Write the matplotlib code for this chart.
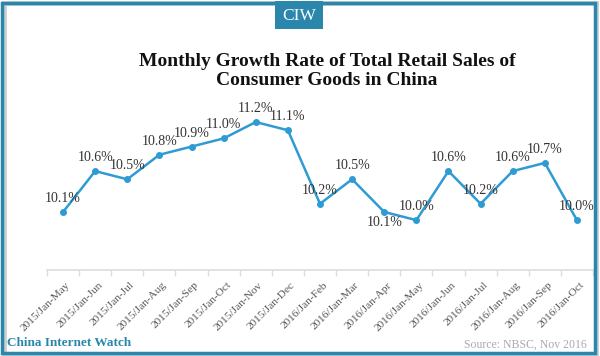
import matplotlib.pyplot as plt
from matplotlib.patches import Rectangle

months = ["2015/Jan-May", "2015/Jan-Jun", "2015/Jan-Jul", "2015/Jan-Aug", "2015/Jan-Sep",
          "2015/Jan-Oct", "2015/Jan-Nov", "2015/Jan-Dec", "2016/Jan-Feb", "2016/Jan-Mar",
          "2016/Jan-Apr", "2016/Jan-May", "2016/Jan-Jun", "2016/Jan-Jul", "2016/Jan-Aug",
          "2016/Jan-Sep", "2016/Jan-Oct"]
growth = [10.1, 10.6, 10.5, 10.8, 10.9, 11.0, 11.2, 11.1, 10.2, 10.5,
          10.1, 10.0, 10.6, 10.2, 10.6, 10.7, 10.0]

line_color = "#2f9bd3"
teal = "#2a87ab"
serif = "Liberation Serif"

fig = plt.figure(figsize=(6, 3.56), dpi=100)
fig.patch.set_facecolor("white")

# frame round the picture
fig.patches.append(Rectangle((0.006, 0.006), 0.988, 0.985, transform=fig.transFigure,
                             fill=False, edgecolor="#c9cfd3", linewidth=3.5))
fig.patches.append(Rectangle((0.004, 0.009), 0.988, 0.983, transform=fig.transFigure,
                             fill=False, edgecolor=teal, linewidth=2.5))
# CIW badge
fig.patches.append(Rectangle((275 / 600, 1 - 29 / 356), 48 / 600, 28 / 356,
                             transform=fig.transFigure, facecolor=teal, edgecolor="none"))
fig.text(299 / 600, 1 - 16 / 356, "CIW", color="white", fontsize=12.5, family=serif,
         ha="center", va="center")

fig.text(327 / 600, 1 - 71 / 356, "Monthly Growth Rate of Total Retail Sales of\nConsumer Goods in China",
         ha="center", va="center", fontsize=14, fontweight="bold", family=serif,
         color="#111111", linespacing=1.2)

ax = fig.add_axes([47 / 600, 1 - 270 / 356, 546 / 600, 170 / 356])
x = list(range(len(months)))
ax.plot(x, growth, color=line_color, linewidth=1.8, marker="o", markersize=4)

for i, v in enumerate(growth):
    if i == 10:
        ax.annotate(f"{v:.1f}%", (i, v), xytext=(0, -3), textcoords="offset points",
                    ha="center", va="top", fontsize=10, family=serif, color="#333333")
    else:
        ax.annotate(f"{v:.1f}%", (i, v), xytext=(0, 5), textcoords="offset points",
                    ha="center", va="bottom", fontsize=10, family=serif, color="#333333")

ax.set_xlim(-0.5, len(months) - 0.5)
ax.set_ylim(9.39, 11.47)
ax.set_yticks([])
for s in ["top", "right", "left"]:
    ax.spines[s].set_visible(False)
ax.spines["bottom"].set_color("#dddddd")
ax.spines["bottom"].set_linewidth(1.2)

ax.set_xticks([i - 0.5 for i in range(len(months) + 1)])
ax.set_xticklabels([])
ax.tick_params(axis="x", length=4, color="#dddddd", width=1)
for i, m in enumerate(months):
    ax.text(i + 0.08, -0.06, m, transform=ax.get_xaxis_transform(), rotation=45,
            ha="right", va="top", rotation_mode="anchor", fontsize=8.2, family=serif,
            color="#555555")

fig.text(7 / 600, 1 - 343 / 356, "China Internet Watch", color=teal, fontsize=9.5,
         fontweight="bold", family=serif, ha="left", va="center")
fig.text(587 / 600, 1 - 345 / 356, "Source: NBSC, Nov 2016", color="#aaaaaa", fontsize=8.5,
         family=serif, ha="right", va="center")

fig.savefig("out.png", dpi=100)
